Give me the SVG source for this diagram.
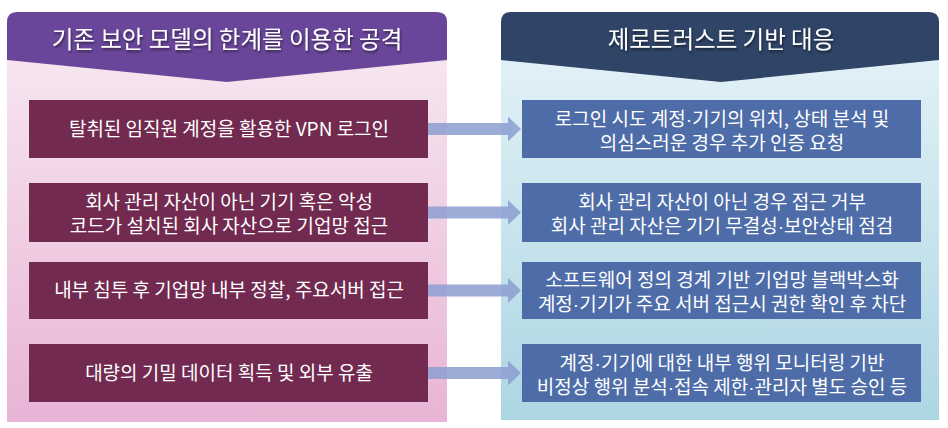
<svg xmlns="http://www.w3.org/2000/svg" width="948" height="428" viewBox="0 0 948 428">
<defs>
<linearGradient id="gl" x1="0" y1="0" x2="0" y2="1"><stop offset="0" stop-color="#f7e8f1"/><stop offset="1" stop-color="#e8b4d5"/></linearGradient>
<linearGradient id="gr" x1="0" y1="0" x2="0" y2="1"><stop offset="0" stop-color="#e4f2f7"/><stop offset="1" stop-color="#acd6e3"/></linearGradient>
<filter id="sh" x="-10%" y="-10%" width="120%" height="140%"><feDropShadow dx="1" dy="2" stdDeviation="1" flood-color="#000" flood-opacity="0.5"/></filter>
</defs>
<style>
text{font-family:"Noto Sans CJK KR","Noto Sans",sans-serif;fill:#fff;text-anchor:middle}
.t{font-size:23.5px}
.b{font-size:19px}
.d{font-family:"Liberation Sans",sans-serif}
.lb{fill:#722a50}
.rb{fill:#4e6da8}
.ar{fill:#8c9ed0;opacity:0.85}
</style>
<rect width="948" height="428" fill="#fff"/>
<g id="left-panel">
<rect x="7" y="40" width="440" height="382" fill="url(#gl)"/>
<path d="M7,60 L7,22 Q7,12 17,12 L437,12 Q447,12 447,22 L447,60 L227,82 Z" fill="#6a469a"/>
<text class="t" x="227" y="48" filter="url(#sh)">기존 보안 모델의 한계를 이용한 공격</text>
</g>
<g id="right-panel">
<rect x="501" y="40" width="438" height="380" fill="url(#gr)"/>
<path d="M501,60 L501,22 Q501,12 511,12 L929,12 Q939,12 939,22 L939,60 L721,82 Z" fill="#2f4466"/>
<text class="t" x="721" y="48" filter="url(#sh)">제로트러스트 기반 대응</text>
</g>
<g id="l1"><rect class="lb" x="29" y="100" width="399" height="58"/><text class="b" x="229" y="136">탈취된 임직원 계정을 활용한 VPN 로그인</text></g>
<g id="l2"><rect class="lb" x="29" y="183" width="399" height="59"/><text class="b" x="229" y="208.5">회사 관리 자산이 아닌 기기 혹은 악성</text><text class="b" x="229" y="233">코드가 설치된 회사 자산으로 기업망 접근</text></g>
<g id="l3"><rect class="lb" x="29" y="262" width="399" height="57"/><text class="b" x="229" y="297">내부 침투 후 기업망 내부 정찰, 주요서버 접근</text></g>
<g id="l4"><rect class="lb" x="29" y="344" width="399" height="58"/><text class="b" x="229" y="380">대량의 기밀 데이터 획득 및 외부 유출</text></g>
<g id="r1"><rect class="rb" x="522" y="100" width="399" height="58"/><text class="b" x="722" y="125.5">로그인 시도 계정<tspan class="d">·</tspan>기기의 위치, 상태 분석 및</text><text class="b" x="722" y="150">의심스러운 경우 추가 인증 요청</text></g>
<g id="r2"><rect class="rb" x="522" y="183" width="399" height="59"/><text class="b" x="722" y="208.5">회사 관리 자산이 아닌 경우 접근 거부</text><text class="b" x="722" y="233">회사 관리 자산은 기기 무결성<tspan class="d">·</tspan>보안상태 점검</text></g>
<g id="r3"><rect class="rb" x="522" y="262" width="399" height="57"/><text class="b" x="722" y="286.5">소프트웨어 정의 경계 기반 기업망 블랙박스화</text><text class="b" x="722" y="311">계정<tspan class="d">·</tspan>기기가 주요 서버 접근시 권한 확인 후 차단</text></g>
<g id="r4"><rect class="rb" x="522" y="344" width="399" height="58"/><text class="b" x="722" y="369.5">계정<tspan class="d">·</tspan>기기에 대한 내부 행위 모니터링 기반</text><text class="b" x="722" y="394">비정상 행위 분석<tspan class="d">·</tspan>접속 제한<tspan class="d">·</tspan>관리자 별도 승인 등</text></g>
<g id="connectors">
<path class="ar" d="M428,123 L508,123 L508,116.5 L521,129 L508,141.5 L508,135 L428,135 Z"/>
<path class="ar" d="M428,206.5 L508,206.5 L508,200 L521,212.5 L508,225 L508,218.5 L428,218.5 Z"/>
<path class="ar" d="M428,284.5 L508,284.5 L508,278 L521,290.5 L508,303 L508,296.5 L428,296.5 Z"/>
<path class="ar" d="M428,367 L508,367 L508,360.5 L521,373 L508,385.5 L508,379 L428,379 Z"/>
</g>
</svg>
